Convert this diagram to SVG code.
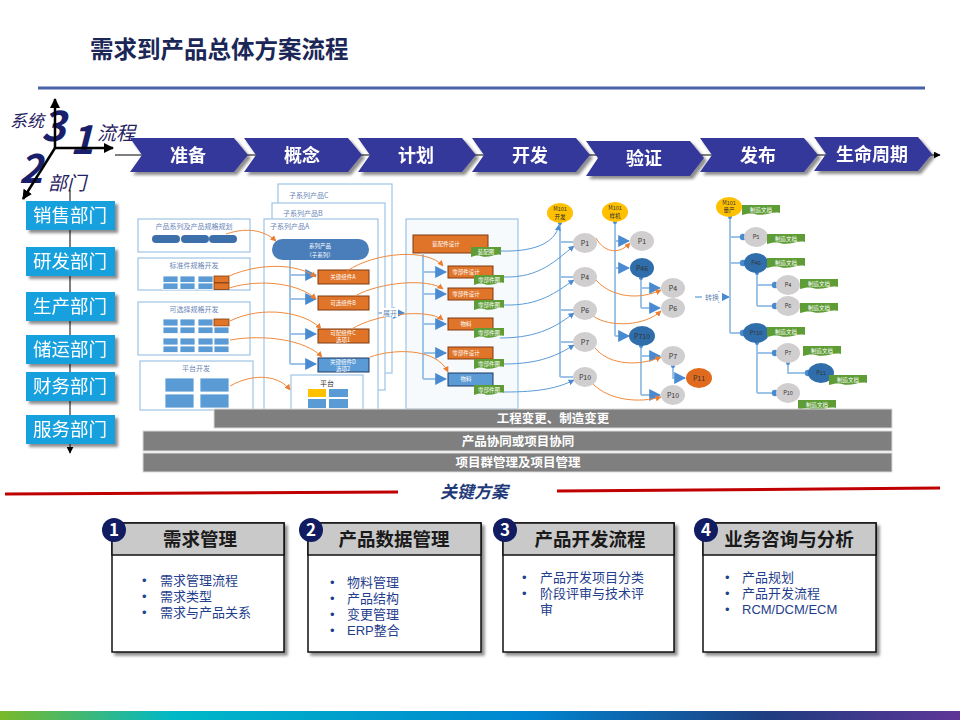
<svg xmlns="http://www.w3.org/2000/svg" width="960" height="720" viewBox="0 0 960 720">
<defs>
<linearGradient id="bottomGrad" x1="0" y1="0" x2="1" y2="0">
<stop offset="0" stop-color="#7AB929"/>
<stop offset="0.18" stop-color="#00B8C8"/>
<stop offset="0.55" stop-color="#0085D0"/>
<stop offset="0.8" stop-color="#1F3D7F"/>
<stop offset="1" stop-color="#5E3598"/>
</linearGradient>
<filter id="sh" x="-10%" y="-10%" width="130%" height="140%">
<feGaussianBlur in="SourceAlpha" stdDeviation="1.5"/>
<feOffset dx="3" dy="3"/>
<feComponentTransfer><feFuncA type="linear" slope="0.45"/></feComponentTransfer>
<feMerge><feMergeNode/><feMergeNode in="SourceGraphic"/></feMerge>
</filter>
<marker id="ao" viewBox="0 0 10 10" refX="9" refY="5" markerWidth="6" markerHeight="6" orient="auto"><path d="M0,0L10,5L0,10z" fill="#ED7D31"/></marker>
<marker id="ab" viewBox="0 0 10 10" refX="9" refY="5" markerWidth="6" markerHeight="6" orient="auto"><path d="M0,0L10,5L0,10z" fill="#4A8AD0"/></marker>
<marker id="ak" viewBox="0 0 10 10" refX="9" refY="5" markerWidth="4" markerHeight="4" orient="auto"><path d="M0,0L10,5L0,10z" fill="#000"/></marker>
<marker id="ak2" viewBox="0 0 10 10" refX="9" refY="5" markerWidth="7" markerHeight="7" orient="auto"><path d="M0,0L10,5L0,10z" fill="#000"/></marker>
<marker id="dot" viewBox="0 0 10 10" refX="5" refY="5" markerWidth="4" markerHeight="4"><circle cx="5" cy="5" r="4" fill="#4A8AD0"/></marker>
<path id="t30" d="M0,0H30V8C24,6 18,12 10,9C6,8 3,9 0,10Z"/>
<path id="t38" d="M0,0H38V8C30,6 22,12 13,9C8,8 4,9 0,10Z"/>
</defs>
<style>
text{font-family:"Noto Sans CJK SC","Noto Sans",sans-serif}
.chev{fill:#36379B}
.chevt{fill:#fff;font-size:18px;font-weight:bold;text-anchor:middle}
.dept{fill:#19A0DE}
.deptt{fill:#fff;font-size:18.5px;text-anchor:middle}
.box{fill:#fff;stroke:#9DC3E6;stroke-width:1.2}
.lbl{font-size:7px;fill:#6A86B8;text-anchor:middle}
.lbll{font-size:7px;fill:#6A86B8}
.cell{fill:#5B9BD5;stroke:#fff;stroke-width:0.8}
.cello{fill:#E07428;stroke:#843C0C;stroke-width:0.8}
.obox{fill:#E07428;stroke:#7F3A10;stroke-width:1}
.bbox{fill:#5B9BD5;stroke:#1F3864;stroke-width:1}
.wt{fill:#fff;font-size:5.5px;text-anchor:middle}
.tag{fill:#5E9C35}
.oc{fill:none;stroke:#F08A3C;stroke-width:1;marker-end:url(#ao)}
.bc{fill:none;stroke:#5B9BD5;stroke-width:1;marker-end:url(#ab)}
.tl{fill:none;stroke:#9DC3E6;stroke-width:2}
.ta{fill:none;stroke:#9DC3E6;stroke-width:2;marker-end:url(#ab)}
.td{fill:none;stroke:#9DC3E6;stroke-width:2;marker-end:url(#dot)}
.pg{fill:#D0CECE}
.pb{fill:#2F6EAA}
.py{fill:#FFC000}
.po{fill:#E06A1E}
.pt{font-size:7px;fill:#333;text-anchor:middle}
.pts{font-size:5.5px;fill:#333;text-anchor:middle}
.bar{fill:#7F7F7F;stroke:#D9D9D9;stroke-width:1}
.bart{fill:#fff;font-size:12.5px;font-weight:bold;text-anchor:middle}
.card{fill:#fff;stroke:#111;stroke-width:1.5}
.hdr{fill:#C9C9C9;stroke:#111;stroke-width:1.5}
.ctitle{font-size:18.5px;font-weight:bold;fill:#1A1A1A;text-anchor:middle}
.num{fill:#111C62}
.numt{fill:#fff;font-size:17px;font-weight:bold;text-anchor:middle}
text.bul{font-family:"Liberation Sans","Noto Sans CJK SC",sans-serif;font-size:13px;fill:#1F3E8C}
.ax{font-style:italic;fill:#1F2060}
.dig{font-style:italic;font-weight:bold;fill:#1A1F6B}
</style>

<rect width="960" height="720" fill="#fff"/>

<g id="title">
<text x="90" y="58" font-size="23.5" font-weight="bold" fill="#1B2756">需求到产品总体方案流程</text>
<line x1="38" y1="88" x2="925" y2="88" stroke="#4A62AA" stroke-width="3"/>
</g>

<g id="axes">
<text class="ax" x="10" y="127" font-size="17">系统</text>
<text class="dig" x="41" y="141" font-size="42">3</text>
<text class="dig" x="70" y="154" font-size="40">1</text>
<text class="ax" x="97" y="140" font-size="19">流程</text>
<text class="dig" x="19" y="183" font-size="40">2</text>
<text class="ax" x="48" y="190" font-size="19">部门</text>
<line x1="55" y1="148" x2="55" y2="99" stroke="#000" stroke-width="2.5" marker-end="url(#ak)"/>
<line x1="55" y1="148" x2="113" y2="148" stroke="#000" stroke-width="2.5" marker-end="url(#ak)"/>
<line x1="55" y1="148" x2="23" y2="199" stroke="#000" stroke-width="2.5" marker-end="url(#ak)"/>
</g>

<g id="connectors">
<line x1="115" y1="155" x2="940" y2="155" stroke="#000" stroke-width="1" marker-end="url(#ak2)"/>
<line x1="70" y1="190" x2="70" y2="453" stroke="#000" stroke-width="1" marker-end="url(#ak2)"/>
</g>

<g id="stages" filter="url(#sh)">
<g id="stage-1"><polygon class="chev" points="130,138 234,138 248,155 234,172 130,172 142,155"/><text class="chevt" x="188" y="162">准备</text></g>
<g id="stage-2"><polygon class="chev" points="244,138 348,138 362,155 348,172 244,172 256,155"/><text class="chevt" x="302" y="162">概念</text></g>
<g id="stage-3"><polygon class="chev" points="358,138 462,138 476,155 462,172 358,172 370,155"/><text class="chevt" x="416" y="162">计划</text></g>
<g id="stage-4"><polygon class="chev" points="472,138 576,138 590,155 576,172 472,172 484,155"/><text class="chevt" x="530" y="162">开发</text></g>
<g id="stage-5"><polygon class="chev" points="586,141 690,141 704,158 690,176 586,176 598,158"/><text class="chevt" x="644" y="165">验证</text></g>
<g id="stage-6"><polygon class="chev" points="700,138 804,138 818,155 804,172 700,172 712,155"/><text class="chevt" x="758" y="162">发布</text></g>
<g id="stage-7"><polygon class="chev" points="814,137 918,137 932,154 918,171 814,171 826,154"/><text class="chevt" x="872" y="161">生命周期</text></g>
</g>

<g id="departments" filter="url(#sh)">
<g id="dept-sales"><rect class="dept" x="26" y="201" width="89" height="29"/><text class="deptt" x="70" y="222">销售部门</text></g>
<g id="dept-rd"><rect class="dept" x="26" y="247" width="89" height="29"/><text class="deptt" x="70" y="268">研发部门</text></g>
<g id="dept-prod"><rect class="dept" x="26" y="292" width="89" height="29"/><text class="deptt" x="70" y="313">生产部门</text></g>
<g id="dept-logi"><rect class="dept" x="26" y="335" width="89" height="29"/><text class="deptt" x="70" y="356">储运部门</text></g>
<g id="dept-fin"><rect class="dept" x="26" y="372" width="89" height="29"/><text class="deptt" x="70" y="393">财务部门</text></g>
<g id="dept-svc"><rect class="dept" x="26" y="415" width="89" height="29"/><text class="deptt" x="70" y="436">服务部门</text></g>
</g>

<g id="planning">
<rect class="box" x="138" y="219" width="112" height="33"/>
<text class="lbl" x="194" y="229">产品系列及产品规格规划</text>
<rect x="152" y="235" width="28" height="8" rx="4" fill="#3D70AA"/>
<rect x="181" y="235" width="28" height="8" rx="4" fill="#3D70AA"/>
<rect x="209" y="235" width="28" height="8" rx="4" fill="#3D70AA"/>
</g>

<g id="std-parts">
<rect class="box" x="138" y="258" width="112" height="32"/>
<text class="lbl" x="194" y="268">标准件规格开发</text>
<rect class="cell" x="163" y="276" width="15" height="6.5"/><rect class="cell" x="180" y="276" width="15" height="6.5"/><rect class="cell" x="198" y="276" width="15" height="6.5"/><rect class="cello" x="214" y="276" width="15" height="6.5"/>
<rect class="cell" x="163" y="283" width="15" height="6.5"/><rect class="cell" x="180" y="283" width="15" height="6.5"/><rect class="cell" x="198" y="283" width="15" height="6.5"/><rect class="cello" x="214" y="283" width="15" height="6.5"/>
</g>

<g id="opt-parts">
<rect class="box" x="138" y="302" width="112" height="53"/>
<text class="lbl" x="194" y="312">可选择规格开发</text>
<rect class="cell" x="163" y="319" width="15" height="7"/><rect class="cell" x="180" y="319" width="15" height="7"/><rect class="cell" x="198" y="319" width="15" height="7"/><rect class="cello" x="214" y="319" width="15" height="7"/>
<rect class="cell" x="163" y="327" width="15" height="6.5"/><rect class="cell" x="180" y="327" width="15" height="6.5"/><rect class="cell" x="198" y="327" width="15" height="6.5"/><rect class="cell" x="214" y="327" width="15" height="6.5"/>
<rect class="cell" x="163" y="338" width="15" height="7"/><rect class="cell" x="180" y="338" width="15" height="7"/><rect class="cell" x="198" y="338" width="15" height="7"/><rect class="cell" x="214" y="338" width="15" height="7"/>
<rect class="cell" x="163" y="346" width="15" height="6.5"/><rect class="cell" x="180" y="346" width="15" height="6.5"/><rect class="cell" x="198" y="346" width="15" height="6.5"/><rect class="cell" x="214" y="346" width="15" height="6.5"/>
</g>

<g id="platform-dev">
<rect class="box" x="140" y="361" width="113" height="49"/>
<text class="lbl" x="196" y="371">平台开发</text>
<rect class="cell" x="165" y="378" width="29" height="14"/><rect class="cell" x="200" y="378" width="29" height="14"/>
<rect class="cell" x="165" y="394" width="29" height="14"/><rect class="cell" x="200" y="394" width="29" height="14"/>
</g>

<g id="subseries">
<rect class="box" x="278" y="184" width="114" height="189"/>
<text class="lbll" x="289" y="198">子系列产品C</text>
<rect class="box" x="272" y="203" width="113" height="187"/>
<text class="lbll" x="283" y="216">子系列产品B</text>
<rect class="box" x="264" y="219" width="114" height="192"/>
<text class="lbll" x="270" y="229">子系列产品A</text>
<rect x="272" y="239" width="97" height="21" rx="10.5" fill="#4A7EBB"/>
<text class="wt" font-size="7"><tspan x="320" y="248">系列产品</tspan><tspan x="320" y="257">（子系列）</tspan></text>
<rect class="obox" x="318" y="270" width="51" height="14"/><text class="wt" x="343" y="279">关键组件A</text>
<rect class="obox" x="318" y="296" width="51" height="14"/><text class="wt" x="343" y="305">可选组件B</text>
<rect class="obox" x="318" y="329" width="51" height="14"/><text class="wt" font-size="5"><tspan x="343" y="335">可配组件C</tspan><tspan x="343" y="341.5">选项1</tspan></text>
<rect class="bbox" x="318" y="358" width="51" height="14"/><text class="wt" font-size="5"><tspan x="343" y="364">关键组件D</tspan><tspan x="343" y="370.5">选项2</tspan></text>
<rect class="box" x="291" y="375" width="72" height="36"/>
<text x="327" y="386" font-size="7" fill="#333" text-anchor="middle">平台</text>
<rect x="308" y="389" width="18" height="8" fill="#FFC000"/><rect x="329" y="389" width="19" height="8" fill="#5B9BD5"/>
<rect x="308" y="399" width="18" height="9" fill="#5B9BD5"/><rect x="329" y="399" width="19" height="9" fill="#5B9BD5"/>
</g>

<g id="design">
<rect x="406" y="219" width="112" height="190" fill="#F7FAFD" stroke="#9DC3E6" stroke-width="1.2"/>
<rect class="obox" x="413" y="235" width="75" height="18"/><text class="wt" x="446" y="246">装配件设计</text>
<rect class="obox" x="448" y="266" width="45" height="12"/><text class="wt" x="466" y="274">零部件设计</text>
<rect class="obox" x="448" y="288" width="45" height="12"/><text class="wt" x="466" y="296">零部件设计</text>
<rect class="obox" x="448" y="318" width="45" height="12"/><text class="wt" x="466" y="326">物料</text>
<rect class="obox" x="448" y="347" width="45" height="12"/><text class="wt" x="466" y="355">零部件设计</text>
<rect class="bbox" x="448" y="373" width="45" height="13"/><text class="wt" x="466" y="381">物料</text>
<use href="#t30" class="tag" x="471" y="247"/><text class="wt" x="486" y="254">装配图</text>
<use href="#t30" class="tag" x="474" y="275"/><text class="wt" x="489" y="282">零部件图</text>
<use href="#t30" class="tag" x="474" y="300"/><text class="wt" x="489" y="307">零部件图</text>
<use href="#t30" class="tag" x="474" y="328"/><text class="wt" x="489" y="335">零部件图</text>
<use href="#t30" class="tag" x="474" y="359"/><text class="wt" x="489" y="366">零部件图</text>
<use href="#t30" class="tag" x="474" y="385"/><text class="wt" x="489" y="392">零部件图</text>
</g>

<g id="tree-lines">
<path class="tl" d="M290,260V364"/>
<path class="ta" d="M290,275H316"/><path class="ta" d="M290,299H316"/><path class="ta" d="M290,334H316"/><path class="ta" d="M290,364H316"/>
<path class="tl" d="M423,253V379"/>
<path class="ta" d="M423,272H446"/><path class="ta" d="M423,294H446"/><path class="ta" d="M423,324H446"/><path class="ta" d="M423,353H446"/><path class="ta" d="M423,379H446"/>
<path class="ta" d="M378,313H404"/>
<path class="tl" d="M560,223V377"/>
<path class="tl" d="M560,242H573M560,277H573M560,310H573M560,342H573M560,377H573"/>
<path class="tl" d="M615,222V336"/>
<path class="ta" d="M615,241H629"/><path class="ta" d="M615,268H629"/><path class="ta" d="M615,336H629"/>
<path class="tl" d="M641,278V308"/><path class="ta" d="M641,288H660"/><path class="ta" d="M641,308H660"/>
<path class="tl" d="M641,346V395"/><path class="ta" d="M641,356H660"/><path class="ta" d="M641,395H660"/>
<path class="ta" d="M673,366V378H685"/>
<path class="ta" d="M695,297H729"/>
<path class="tl" d="M730,217V333"/>
<path class="td" d="M730,237H743"/><path class="td" d="M730,263H743"/><path class="td" d="M730,333H743"/>
<path class="tl" d="M757,273V306"/><path class="td" d="M757,285H775"/><path class="td" d="M757,306H775"/>
<path class="tl" d="M757,343V393"/><path class="td" d="M757,353H775"/><path class="td" d="M757,393H775"/>
<path class="td" d="M788,363V373H808"/>
<circle cx="560" cy="223" r="2" fill="#4A8AD0"/><circle cx="615" cy="222" r="2" fill="#4A8AD0"/><circle cx="730" cy="217" r="2" fill="#4A8AD0"/>
<circle cx="641" cy="278" r="2" fill="#4A8AD0"/><circle cx="641" cy="346" r="2" fill="#4A8AD0"/><circle cx="673" cy="366" r="2" fill="#4A8AD0"/>
<circle cx="757" cy="273" r="2" fill="#4A8AD0"/><circle cx="757" cy="343" r="2" fill="#4A8AD0"/><circle cx="788" cy="363" r="2" fill="#4A8AD0"/>
</g>

<g id="flow-curves">
<path class="oc" d="M226,234C250,226 266,232 276,241"/>
<path class="oc" d="M229,276C262,262 298,264 316,277"/>
<path class="oc" d="M229,288C262,278 300,284 316,299"/>
<path class="oc" d="M230,321C262,305 306,312 321,329"/>
<path class="oc" d="M230,340C265,334 306,340 322,357"/>
<path class="oc" d="M230,386C255,372 280,376 290,390"/>
<path class="oc" d="M347,271C375,252 428,248 443,266"/>
<path class="oc" d="M355,296C380,282 428,278 443,289"/>
<path class="oc" d="M352,329C375,314 428,308 443,320"/>
<path class="oc" d="M370,357C392,349 436,347 448,372"/>
<path class="oc" d="M596,238C605,254 620,254 630,243"/>
<path class="oc" d="M596,280C612,298 640,300 661,290"/>
<path class="oc" d="M593,316C610,328 645,326 661,311"/>
<path class="oc" d="M595,348C610,366 640,366 661,357"/>
<path class="oc" d="M593,384C610,401 640,403 661,397"/>
<path class="bc" d="M500,251C530,252 555,245 559,225"/>
<path class="bc" d="M504,277C540,278 556,260 574,246"/>
<path class="bc" d="M504,305C540,306 556,292 574,280"/>
<path class="bc" d="M500,338C540,338 558,325 574,313"/>
<path class="bc" d="M504,364C540,364 558,355 574,345"/>
<path class="bc" d="M504,392C540,392 558,388 574,380"/>
</g>

<g id="labels">
<rect x="382" y="308" width="16" height="9" fill="#fff"/>
<text x="390" y="315.5" font-size="7" fill="#6A86B8" text-anchor="middle">展开</text>
<rect x="702" y="292" width="20" height="10" fill="#fff"/>
<text x="712" y="299.5" font-size="7" fill="#6A86B8" text-anchor="middle">转换</text>
</g>

<g id="milestone-dev">
<ellipse class="py" cx="560" cy="213" rx="13" ry="10"/>
<text class="pts" font-size="6"><tspan x="560" y="211">M101</tspan><tspan x="560" y="219">开发</tspan></text>
<ellipse class="pg" cx="585" cy="243" rx="12" ry="10"/><text class="pt" x="585" y="245.5">P1</text>
<ellipse class="pg" cx="585" cy="277" rx="12" ry="10"/><text class="pt" x="585" y="279.5">P4</text>
<ellipse class="pg" cx="585" cy="310" rx="12" ry="10"/><text class="pt" x="585" y="312.5">P6</text>
<ellipse class="pg" cx="585" cy="342" rx="12" ry="10"/><text class="pt" x="585" y="344.5">P7</text>
<ellipse class="pg" cx="585" cy="377" rx="12" ry="10"/><text class="pt" x="585" y="379.5">P10</text>
</g>

<g id="milestone-proto">
<ellipse class="py" cx="615" cy="212" rx="13" ry="10"/>
<text class="pts" font-size="6"><tspan x="615" y="210">M101</tspan><tspan x="615" y="218">样机</tspan></text>
<ellipse class="pg" cx="642" cy="241" rx="12" ry="10"/><text class="pt" x="642" y="243.5">P1</text>
<ellipse class="pb" cx="642" cy="268" rx="12" ry="10"/><text class="pt" x="642" y="270.5">P46</text>
<ellipse class="pg" cx="673" cy="288" rx="12" ry="10"/><text class="pt" x="673" y="290.5">P4</text>
<ellipse class="pg" cx="673" cy="308" rx="12" ry="10"/><text class="pt" x="673" y="310.5">P6</text>
<ellipse class="pb" cx="642" cy="336" rx="13" ry="10"/><text class="pt" x="642" y="338.5">P710</text>
<ellipse class="pg" cx="673" cy="356" rx="12" ry="10"/><text class="pt" x="673" y="358.5">P7</text>
<ellipse class="pg" cx="673" cy="395" rx="12" ry="10"/><text class="pt" x="673" y="397.5">P10</text>
<ellipse class="po" cx="699" cy="378" rx="13" ry="10"/><text class="pt" x="699" y="380.5">P11</text>
</g>

<g id="milestone-mass">
<ellipse class="py" cx="729" cy="207" rx="13" ry="10"/>
<text class="pts" font-size="5"><tspan x="729" y="205">M101</tspan><tspan x="729" y="212">量产</tspan></text>
<use href="#t38" class="tag" x="742" y="205"/><text class="wt" x="761" y="212">制造文档</text>
<ellipse class="pg" cx="756" cy="237" rx="12" ry="10"/><text class="pts" x="756" y="239">P5</text>
<use href="#t38" class="tag" x="767" y="234"/><text class="wt" x="786" y="241">制造文档</text>
<ellipse class="pb" cx="756" cy="263" rx="12" ry="10"/><text class="pts" x="756" y="265">P46</text>
<use href="#t38" class="tag" x="767" y="258"/><text class="wt" x="786" y="265">制造文档</text>
<ellipse class="pg" cx="788" cy="285" rx="12" ry="10"/><text class="pts" x="788" y="287">P4</text>
<use href="#t38" class="tag" x="800" y="279"/><text class="wt" x="819" y="286">制造文档</text>
<ellipse class="pg" cx="788" cy="306" rx="12" ry="10"/><text class="pts" x="788" y="308">P6</text>
<use href="#t38" class="tag" x="800" y="303"/><text class="wt" x="819" y="310">制造文档</text>
<ellipse class="pb" cx="756" cy="333" rx="13" ry="10"/><text class="pts" x="756" y="335">P710</text>
<use href="#t38" class="tag" x="767" y="327"/><text class="wt" x="786" y="334">制造文档</text>
<ellipse class="pg" cx="788" cy="353" rx="12" ry="10"/><text class="pts" x="788" y="355">P7</text>
<use href="#t38" class="tag" x="803" y="346"/><text class="wt" x="822" y="353">制造文档</text>
<ellipse class="pb" cx="821" cy="373" rx="13" ry="10"/><text class="pts" x="821" y="375">P11</text>
<use href="#t38" class="tag" x="829" y="375"/><text class="wt" x="848" y="382">制造文档</text>
<ellipse class="pg" cx="788" cy="393" rx="12" ry="10"/><text class="pts" x="788" y="395">P10</text>
<use href="#t38" class="tag" x="798" y="400"/><text class="wt" x="817" y="407">制造文档</text>
</g>

<g id="bars">
<g id="bar-change"><rect class="bar" x="214" y="409" width="678" height="19"/><text class="bart" x="553" y="423">工程变更、制造变更</text></g>
<g id="bar-collab"><rect class="bar" x="143" y="431" width="749" height="20"/><text class="bart" x="518" y="445.5">产品协同或项目协同</text></g>
<g id="bar-pm"><rect class="bar" x="143" y="453" width="749" height="19"/><text class="bart" x="518" y="467">项目群管理及项目管理</text></g>
</g>

<g id="key-heading">
<line x1="5" y1="494" x2="398" y2="492" stroke="#C00000" stroke-width="3"/>
<line x1="557" y1="491" x2="940" y2="488" stroke="#C00000" stroke-width="3"/>
<text x="440" y="498" font-size="17" font-weight="bold" font-style="italic" fill="#1F3A7A">关键方案</text>
</g>

<g id="card-1">
<rect class="card" x="112" y="523" width="172" height="129" filter="url(#sh)"/>
<rect class="hdr" x="112" y="523" width="172" height="32"/>
<text class="ctitle" x="200" y="546">需求管理</text>
<circle class="num" cx="114" cy="530" r="12"/><text class="numt" x="114" y="536">1</text>
<text class="bul"><tspan x="142" y="585">•</tspan><tspan x="160" y="585">需求管理流程</tspan><tspan x="142" y="601">•</tspan><tspan x="160" y="601">需求类型</tspan><tspan x="142" y="617">•</tspan><tspan x="160" y="617">需求与产品关系</tspan></text>
</g>

<g id="card-2">
<rect class="card" x="308" y="523" width="173" height="129" filter="url(#sh)"/>
<rect class="hdr" x="308" y="523" width="173" height="32"/>
<text class="ctitle" x="394" y="546">产品数据管理</text>
<circle class="num" cx="311" cy="530" r="12"/><text class="numt" x="311" y="536">2</text>
<text class="bul"><tspan x="330" y="587">•</tspan><tspan x="347" y="587">物料管理</tspan><tspan x="330" y="603">•</tspan><tspan x="347" y="603">产品结构</tspan><tspan x="330" y="619">•</tspan><tspan x="347" y="619">变更管理</tspan><tspan x="330" y="635">•</tspan><tspan x="347" y="635">ERP整合</tspan></text>
</g>

<g id="card-3">
<rect class="card" x="503" y="523" width="171" height="129" filter="url(#sh)"/>
<rect class="hdr" x="503" y="523" width="171" height="32"/>
<text class="ctitle" x="590" y="546">产品开发流程</text>
<circle class="num" cx="505" cy="530" r="12"/><text class="numt" x="505" y="536">3</text>
<text class="bul"><tspan x="522" y="582">•</tspan><tspan x="540" y="582">产品开发项目分类</tspan><tspan x="522" y="598">•</tspan><tspan x="540" y="598">阶段评审与技术评</tspan><tspan x="540" y="614">审</tspan></text>
</g>

<g id="card-4">
<rect class="card" x="703" y="523" width="173" height="129" filter="url(#sh)"/>
<rect class="hdr" x="703" y="523" width="173" height="32"/>
<text class="ctitle" x="789" y="546">业务咨询与分析</text>
<circle class="num" cx="706" cy="530" r="12"/><text class="numt" x="706" y="536">4</text>
<text class="bul"><tspan x="725" y="582">•</tspan><tspan x="742" y="582">产品规划</tspan><tspan x="725" y="598">•</tspan><tspan x="742" y="598">产品开发流程</tspan><tspan x="725" y="614">•</tspan><tspan x="742" y="614">RCM/DCM/ECM</tspan></text>
</g>

<rect id="footer-band" x="0" y="711" width="960" height="9" fill="url(#bottomGrad)"/>
</svg>
